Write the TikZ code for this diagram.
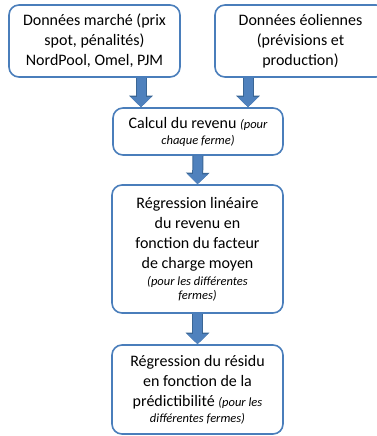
\documentclass[tikz,border=0pt]{standalone}
\usepackage{fontspec}
\setmainfont{Carlito}
\usetikzlibrary{arrows.meta}
\definecolor{boxline}{HTML}{4A7EBB}
\definecolor{arrfill}{HTML}{4F81BD}
\definecolor{arrline}{HTML}{3A6695}
\newcommand{\mainsz}{\fontsize{16}{20}\selectfont}
\newcommand{\smallit}{\fontsize{12.5}{15}\selectfont\itshape}
\tikzset{
  stepbox/.style={draw=boxline, line width=1.6pt, rounded corners=10pt, fill=white,
    inner sep=0pt, align=center, font=\mainsz},
  fatarrow/.style={draw=arrfill, line width=9pt,
    -{Triangle[width=20pt,length=10pt]},
    preaction={draw=arrline, line width=11pt, -{Triangle[width=23pt,length=11.5pt]}}}
}
\begin{document}
\begin{tikzpicture}[x=1pt,y=-1pt]
\useasboundingbox (0,0) rectangle (377,436);
\node[stepbox, minimum width=171pt, minimum height=72pt] (b1) at (94.5,41)
  {Données marché (prix\\ spot, pénalités)\\ NordPool, Omel, PJM};
\node[stepbox, minimum width=171pt, minimum height=72pt] (b2) at (300.5,41)
  {Données éoliennes\\ (prévisions et\\ production)};
\node[stepbox, minimum width=170pt, minimum height=47pt] (b3) at (198,131.5)
  {Calcul du revenu {\smallit (pour}\\[-4pt] {\smallit chaque ferme)}};
\node[stepbox, minimum width=171pt, minimum height=128pt] (b4) at (197.5,249)
  {Régression linéaire\\ du revenu en\\ fonction du facteur\\ de charge moyen\\[-3pt]
   {\smallit (pour les différentes}\\[-6pt] {\smallit fermes)}};
\node[stepbox, minimum width=171pt, minimum height=89pt] (b5) at (197.5,389.5)
  {Régression du résidu\\ en fonction de la\\ prédictibilité {\smallit (pour les}\\[-4pt]
   {\smallit différentes fermes)}};
\coordinate (xl) at (141,0);
\coordinate (xr) at (248,0);
\draw[fatarrow] (b1.south -| xl) -- (b3.north -| xl);
\draw[fatarrow] (b2.south -| xr) -- (b3.north -| xr);
\draw[fatarrow] (b3.south) -- (b4.north);
\draw[fatarrow] (b4.south) -- (b5.north);
\end{tikzpicture}
\end{document}
